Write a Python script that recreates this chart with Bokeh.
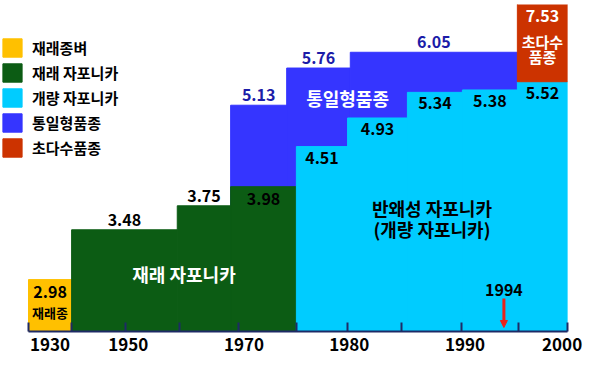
import numpy as np
from bokeh.plotting import figure
from bokeh.models import ColumnDataSource, Range1d, FixedTicker, Legend, LegendItem, Arrow, NormalHead
from bokeh.core.properties import value
from bokeh.embed import file_html
from bokeh.resources import INLINE

# ---------------- data ----------------
# period edges (schematic time index) and yields (t/10a)
trad_left, trad_right, trad_val = [0.0], [0.8], [2.98]                       # 재래종벼
jap_left, jap_right, jap_val = [0.8, 2.76, 3.75], [2.76, 3.75, 4.97], [3.48, 3.75, 3.98]   # 재래 자포니카
imp_left = [4.97, 5.92, 7.03, 8.05, 9.07]
imp_right = [5.92, 7.03, 8.05, 9.07, 10.0]
imp_val = [4.51, 4.93, 5.34, 5.38, 5.52]                                      # 개량 자포니카
ton_left, ton_right, ton_val = [3.75, 4.79, 5.97], [4.79, 5.97, 9.07], [5.13, 5.76, 6.05]  # 통일형품종
sup_left, sup_right, sup_base, sup_val = [9.07], [10.0], [5.52], [7.53]      # 초다수품종

label_years = [1930, 1950, 1970, 1980, 1990, 2000]
year_labels = ["1930", "1950", "1970", "1980", "1990", "2000"]
event_year = 1994

legend_names = ["재래종벼", "재래 자포니카", "개량 자포니카", "통일형품종", "초다수품종"]

# ---------------- style ----------------
FONT = value("Noto Sans CJK KR")
C_YEL, C_GRN, C_CYN, C_BLU, C_RED = "#FFC000", "#0C5C14", "#00CCFF", "#3535FF", "#CC3300"
C_NAVY, C_BTXT = "#1E2A66", "#1C1CA8"

year_pos = [0.4, 1.85, 4.0, 5.95, 8.1, 9.9]
tick_pos = [0, 0.8, 1.8, 2.8, 3.9, 4.97, 5.92, 6.92, 8.03, 9.09, 10]

Y0, Y1 = 2.535, 7.021

p = figure(width=592, height=366, x_range=Range1d(-0.5195, 10), y_range=Range1d(Y0, Y1),
           y_axis_type="log", y_axis_location=None,
           output_backend="svg", toolbar_location=None,
           min_border_left=0, min_border_right=25, min_border_top=4, min_border_bottom=35)
p.outline_line_color = None
p.grid.visible = False
p.background_fill_color = "white"


def src(left, right, val, bottom=None):
    return ColumnDataSource(dict(left=left, right=right, top=val,
                                 bottom=bottom if bottom is not None else [Y0] * len(val),
                                 x=[(l + r) / 2 for l, r in zip(left, right)],
                                 text=[f"{v:.2f}" for v in val]))


s_trad = src(trad_left, trad_right, trad_val)
s_jap = src(jap_left, jap_right, jap_val)
s_imp = src(imp_left, imp_right, imp_val)
s_ton = src(ton_left, ton_right, ton_val)
s_sup = src(sup_left, sup_right, sup_val, sup_base)


def bars(source, color):
    return p.quad(left="left", right="right", bottom="bottom", top="top", source=source,
                  fill_color=color, line_color=color, line_width=1)


r_ton = bars(s_ton, C_BLU)
r_trad = bars(s_trad, C_YEL)
r_jap = bars(s_jap, C_GRN)
r_imp = bars(s_imp, C_CYN)
r_sup = bars(s_sup, C_RED)


def vlabels(source, idx, offset, color):
    d = source.data
    sub = ColumnDataSource(dict(x=[d["x"][i] for i in idx], y=[d["top"][i] for i in idx],
                                text=[d["text"][i] for i in idx]))
    p.text(x="x", y="y", text="text", source=sub, text_font=FONT, text_font_style="bold",
           text_font_size="16px", text_align="center", text_baseline="middle",
           y_offset=offset, text_color=color)


vlabels(s_trad, [0], 12, "black")
vlabels(s_jap, [0, 1], -10, "black")
vlabels(s_jap, [2], 12, "black")
vlabels(s_imp, [0, 1, 2, 3, 4], 11, "black")
vlabels(s_ton, [0, 1, 2], -10, C_BTXT)

# 초다수 box labels (the box runs past the top of the frame)
sd = s_sup.data
p.text(x=sd["x"], y=sd["bottom"], text=sd["text"], text_font=FONT, text_font_style="bold",
       text_font_size="16px", text_align="center", text_baseline="middle", y_offset=-66, text_color="white")
p.text(x=sd["x"], y=sd["bottom"], text=["초다수"], text_font=FONT, text_font_style="bold",
       text_font_size="15px", text_align="center", text_baseline="middle", y_offset=-40, text_color="white")
p.text(x=sd["x"], y=sd["bottom"], text=["품종"], text_font=FONT, text_font_style="bold",
       text_font_size="15px", text_align="center", text_baseline="middle", y_offset=-25, text_color="white")

# category annotations
p.text(x=[s_trad.data["x"][0]], y=[trad_val[0]], text=["재래종"], text_font=FONT, text_font_style="bold",
       text_font_size="13px", text_align="center", text_baseline="middle", y_offset=33, text_color="black")
p.text(x=[(jap_left[0] + jap_right[-1]) / 2], y=[3.037], text=["재래 자포니카"], text_font=FONT,
       text_font_style="bold", text_font_size="18px", text_align="center", text_baseline="middle",
       text_color="white")
p.text(x=[imp_left[1]], y=[5.255], text=["통일형품종"], text_font=FONT, text_font_style="bold",
       text_font_size="18px", text_align="center", text_baseline="middle", text_color="white")
mid_imp = (imp_left[0] + imp_right[-1]) / 2
p.text(x=[mid_imp, mid_imp], y=[3.73, 3.494], text=["반왜성 자포니카", "(개량 자포니카)"], text_font=FONT,
       text_font_style="bold", text_font_size="18px", text_align="center", text_baseline="middle",
       text_color="black")

# 1994 marker
ex = float(np.interp(event_year, label_years, year_pos))
p.text(x=[ex], y=[2.889], text=[str(event_year)], text_font=FONT, text_font_style="bold",
       text_font_size="16px", text_align="center", text_baseline="middle", text_color="black")
p.add_layout(Arrow(x_start=ex, y_start=2.81, x_end=ex, y_end=2.567, line_color="#E8231A", line_width=3,
                   end=NormalHead(size=7, fill_color="#E8231A", line_color="#E8231A")))

# x axis
xa = p.xaxis[0]
xa.bounds = (0, 10)
xa.ticker = FixedTicker(ticks=year_pos, minor_ticks=tick_pos)
xa.major_label_overrides = {pos: lab for pos, lab in zip(year_pos, year_labels)}
xa.axis_line_color = C_NAVY
xa.axis_line_width = 2
xa.major_tick_in = 0
xa.major_tick_out = 0
xa.minor_tick_in = 9
xa.minor_tick_out = 0
xa.minor_tick_line_color = C_NAVY
xa.minor_tick_line_width = 2
xa.major_label_text_font = "Noto Sans CJK KR"
xa.major_label_text_font_style = "bold"
xa.major_label_text_font_size = "17px"
xa.major_label_text_color = "black"
xa.major_label_standoff = 6

# legend
legend = Legend(items=[LegendItem(label=n, renderers=[r]) for n, r in
                       zip(legend_names, [r_trad, r_jap, r_imp, r_ton, r_sup])],
                location=(0, 172), glyph_width=24, glyph_height=23, label_height=23, spacing=2,
                padding=0, margin=0, label_standoff=8, border_line_color=None, background_fill_alpha=0,
                label_text_font="Noto Sans CJK KR", label_text_font_style="bold",
                label_text_font_size="15px", label_text_color="black")
p.add_layout(legend)

open("out.html", "w").write(file_html(p, INLINE))
